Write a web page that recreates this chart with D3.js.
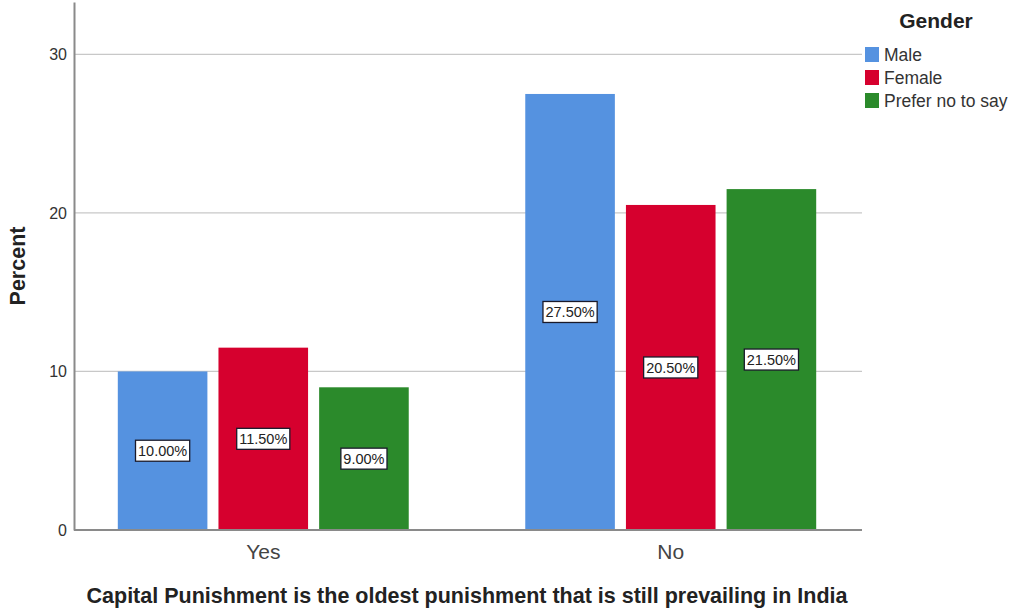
<!DOCTYPE html>
<html><head><meta charset="utf-8">
<script src="https://cdn.jsdelivr.net/npm/d3@7"></script>
<style>body{margin:0;background:#fff;font-family:Arial,"Liberation Sans",sans-serif;}</style>
</head><body><svg id="c" width="1013" height="611"></svg>
<script>
const categories = ["Yes", "No"];
const seriesNames = ["Male", "Female", "Prefer no to say"];
const male = [10.0, 27.5];
const female = [11.5, 20.5];
const preferNot = [9.0, 21.5];
const yTicks = [0, 10, 20, 30];
const colors = ["#5592e0", "#d6002e", "#2b8a2b"];
const seriesValues = [male, female, preferNot];
const FF = "Arial,'Liberation Sans',sans-serif";

const svg = d3.select("#c");
const mLeft = 74, mRight = 860, mTop = 2, mBottom = 530;
const y = d3.scaleLinear().domain([0, 33.3]).range([mBottom, mTop]);
const x0 = d3.scaleBand().domain(categories).range([mLeft, mRight]).paddingInner(0.286).paddingOuter(0.1075);
const x1 = d3.scaleBand().domain(seriesNames).range([0, x0.bandwidth()]).paddingInner(0.11);

// gridlines
svg.append("g").selectAll("line").data(yTicks.filter(d => d > 0)).join("line")
  .attr("x1", mLeft).attr("x2", mRight + 2).attr("y1", d => y(d)).attr("y2", d => y(d))
  .attr("stroke", "#c8c8c8").attr("stroke-width", 1.3);

const cells = [];
categories.forEach((c, ci) => seriesNames.forEach((s, si) => cells.push({c, s, si, v: seriesValues[si][ci]})));

// bars
svg.append("g").selectAll("rect").data(cells).join("rect")
  .attr("x", d => x0(d.c) + x1(d.s)).attr("width", x1.bandwidth())
  .attr("y", d => y(d.v)).attr("height", d => y(0) - y(d.v)).attr("fill", d => colors[d.si]);

// labels
const lab = svg.append("g").selectAll("g").data(cells).join("g")
  .attr("transform", d => `translate(${x0(d.c) + x1(d.s) + x1.bandwidth() / 2},${(y(d.v) + y(0)) / 2})`);
lab.append("rect").attr("fill", "#fff").attr("stroke", "#1a1a2a").attr("stroke-width", 1.3);
lab.append("text").attr("text-anchor", "middle").attr("dy", "0.36em")
  .attr("font-size", 14.5).attr("fill", "#222").attr("font-family", FF).text(d => d.v.toFixed(2) + "%");
lab.each(function() {
  const g = d3.select(this);
  const w = g.select("text").node().getComputedTextLength();
  g.select("rect").attr("x", -w / 2 - 2.5).attr("y", -10.5).attr("width", w + 5).attr("height", 21);
});

// axes
const yAxis = d3.axisLeft(y).tickValues(yTicks).tickSize(0).tickPadding(7);
const ya = svg.append("g").attr("transform", `translate(${mLeft},0)`).call(yAxis);
ya.select(".domain").attr("stroke", "#8a8a8a").attr("stroke-width", 2);
ya.selectAll("text").attr("font-size", 16).attr("fill", "#333").attr("font-family", FF);

const xAxis = d3.axisBottom(x0).tickSize(0).tickPadding(14);
const xa = svg.append("g").attr("transform", `translate(0,${mBottom})`).call(xAxis);
xa.select(".domain").attr("d", `M${mLeft},0H${mRight + 2}`).attr("stroke", "#8a8a8a").attr("stroke-width", 2);
xa.selectAll("text").attr("font-size", 21).attr("fill", "#444").attr("font-family", FF);

// axis titles
svg.append("text").attr("transform", "translate(25,266) rotate(-90)").attr("text-anchor", "middle")
  .attr("font-size", 21.5).attr("font-weight", "bold").attr("fill", "#222").attr("font-family", FF).text("Percent");
svg.append("text").attr("x", 467).attr("y", 603).attr("text-anchor", "middle")
  .attr("font-size", 21.5).attr("font-weight", "bold").attr("fill", "#222").attr("font-family", FF)
  .text("Capital Punishment is the oldest punishment that is still prevailing in India");

// legend
svg.append("text").attr("x", 936).attr("y", 28).attr("text-anchor", "middle")
  .attr("font-size", 21).attr("font-weight", "bold").attr("fill", "#222").attr("font-family", FF).text("Gender");
const lg = svg.append("g").selectAll("g").data(seriesNames).join("g")
  .attr("transform", (d, i) => `translate(865,${47 + i * 23})`);
lg.append("rect").attr("width", 14).attr("height", 15).attr("fill", (d, i) => colors[i]);
lg.append("text").attr("x", 19).attr("y", 8).attr("dy", "0.36em")
  .attr("font-size", 17.5).attr("fill", "#333").attr("font-family", FF).text(d => d);
</script></body></html>
